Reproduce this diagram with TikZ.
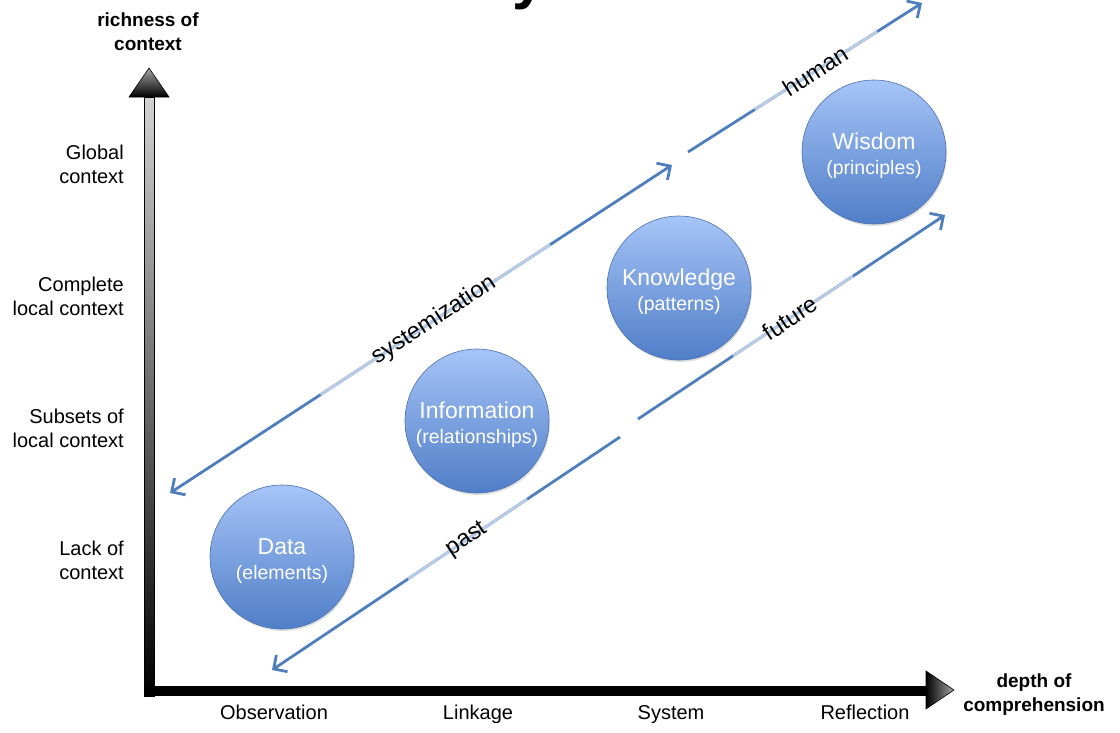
\documentclass[tikz,border=0pt]{standalone}
\usepackage{fontspec}
\setmainfont{Liberation Sans}
\usetikzlibrary{arrows.meta,calc,shadows}

\definecolor{flowblue}{RGB}{79,126,189}
\definecolor{softblue}{RGB}{185,204,228}
\definecolor{circtop}{RGB}{166,196,247}
\definecolor{circbot}{RGB}{80,126,200}
\definecolor{circedge}{RGB}{74,112,176}

\begin{document}
\begin{tikzpicture}[x=1pt, y=-1pt,
        >={Straight Barb[length=10pt,width=20pt]},
        flow/.style={line width=2.8pt, flowblue},
        soft/.style={line width=2.8pt, softblue},
        lbl/.style={font=\fontsize{23.5}{25}\selectfont, sloped, inner sep=1pt},
        stage/.style={circle, draw=circedge, line width=0.6pt, top color=circtop, bottom color=circbot,
            minimum size=144pt, text=white, align=center, font=\fontsize{19.5}{25}\selectfont,
            drop shadow={opacity=0.25, shadow xshift=1pt, shadow yshift=-2pt}},
        ticklbl/.style={font=\fontsize{20}{24}\selectfont, align=right, anchor=east, inner sep=0pt},
        steplbl/.style={font=\fontsize{20}{24}\selectfont, anchor=base},
        axislbl/.style={font=\bfseries\fontsize{19}{24}\selectfont, align=center}]
        \useasboundingbox (0,0) rectangle (1120,732);
        \clip (0,0) rectangle (1120,732);
        \node[font=\bfseries\fontsize{60}{60}\selectfont, anchor=base] (title) at (529,-3) {y};

        \shade[top color=gray!35, bottom color=black, draw=black, line width=0.8pt] (144,97) rectangle (154,696);
        \shade[top color=gray!70, bottom color=black, draw=black, line width=0.6pt] (149,68) -- (169,97) -- (129,97) -- cycle;
        \fill[black] (144,686) rectangle (926,696);
        \shade[left color=black, right color=gray!70, draw=black, line width=0.6pt] (926,671) -- (954,690) -- (926,709) -- cycle;

        \node[axislbl] (yaxis) at (148,32) {richness of\\context};
        \node[axislbl] (xaxis) at (1034,695) {depth of\\comprehension};

        \node[ticklbl] (global) at (124,164) {Global\\context};
        \node[ticklbl] (complete) at (124,296) {Complete\\local context};
        \node[ticklbl] (subsets) at (124,428) {Subsets of\\local context};
        \node[ticklbl] (lack) at (124,560) {Lack of\\context};

        \node[steplbl] (obs) at (274,719) {Observation};
        \node[steplbl] (link) at (478,719) {Linkage};
        \node[steplbl] (sys) at (671,719) {System};
        \node[steplbl] (refl) at (865,719) {Reflection};

        \node[stage] (data) at (282,557) {{\fontsize{23}{25}\selectfont\rule{0pt}{25pt}Data}\\(elements)};
        \node[stage] (info) at (477,421) {{\fontsize{23}{25}\selectfont\rule{0pt}{25pt}Information}\\(relationships)};
        \node[stage] (know) at (679,288) {{\fontsize{23}{25}\selectfont\rule{0pt}{25pt}Knowledge}\\(patterns)};
        \node[stage] (wis) at (874,152) {{\fontsize{23}{25}\selectfont\rule{0pt}{25pt}Wisdom}\\(principles)};

        \coordinate (sysL) at (170,493);
        \coordinate (sysR) at (672,165);
        \coordinate (humL) at (688,152);
        \coordinate (humR) at (922,3);
        \coordinate (pastR) at (620,437);
        \coordinate (pastL) at (272,670);
        \coordinate (futL) at (638,419);
        \coordinate (futR) at (945,215);

        \draw[flow, <->] (sysL) -- (sysR);
        \draw[soft] ($(sysL)!0.30!(sysR)$) -- ($(sysL)!0.757!(sysR)$);
        \path (sysL) -- (sysR) node[lbl, pos=0.526] {systemization};

        \draw[flow, ->] (humL) -- (humR);
        \draw[soft] ($(humL)!0.286!(humR)$) -- ($(humL)!0.808!(humR)$);
        \path (humL) -- (humR) node[lbl, pos=0.543] {human};

        \draw[flow, ->] (pastR) -- (pastL);
        \draw[soft] ($(pastR)!0.267!(pastL)$) -- ($(pastR)!0.609!(pastL)$);
        \path (pastR) -- (pastL) node[lbl, pos=0.44] {past};

        \draw[flow, ->] (futL) -- (futR);
        \draw[soft] ($(futL)!0.31!(futR)$) -- ($(futL)!0.70!(futR)$);
        \path (futL) -- (futR) node[lbl, pos=0.495] {future};
\end{tikzpicture}
\end{document}
